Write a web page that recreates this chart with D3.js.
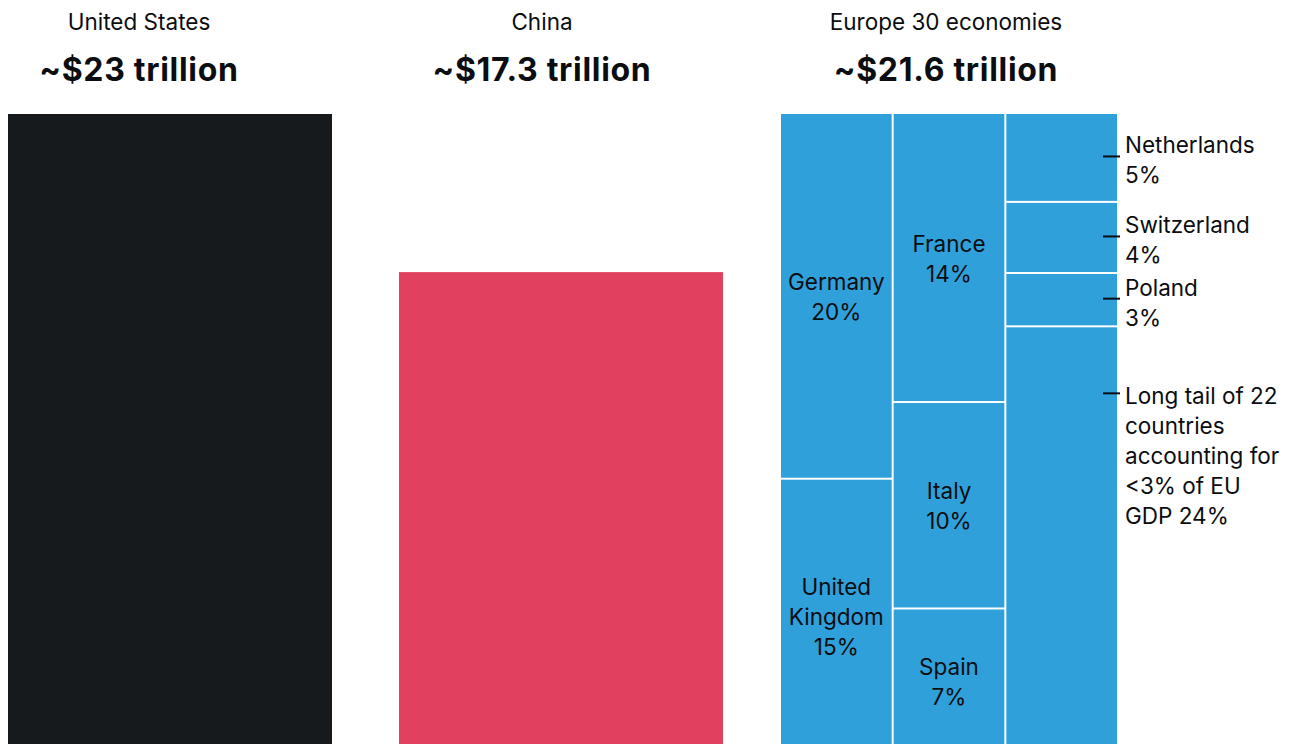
<!DOCTYPE html>
<html>
<head>
<meta charset="utf-8">
<script src="https://cdn.jsdelivr.net/npm/d3@7"></script>
<style>
  html, body { margin: 0; padding: 0; background: #fff; }
  svg { display: block; }
  text { font-family: Inter, "Liberation Sans", Arial, sans-serif; fill: #0b0d10; }
</style>
</head>
<body>
<svg id="chart" width="1292" height="744"></svg>
<script>
// GDP by economy, trillion USD
const economies = ["United States", "China", "Europe 30 economies"];
const gdpTrillions = [23, 17.3, 21.6];
const gdpLabels = ["~$23 trillion", "~$17.3 trillion", "~$21.6 trillion"];
const economyColors = ["#171a1d", "#e1405e", "#30a0da"];

// Europe breakdown: share of GDP (%) and the column of the mosaic each sits in
const euCountries = ["Germany", "United Kingdom", "France", "Italy", "Spain",
                     "Netherlands", "Switzerland", "Poland", "Long tail"];
const euShares = [20, 15, 14, 10, 7, 5, 4, 3, 24];
const euColumns = [0, 0, 1, 1, 1, 2, 2, 2, 2];
const euLabelLines = [
  ["Germany", "20%"],
  ["United", "Kingdom", "15%"],
  ["France", "14%"],
  ["Italy", "10%"],
  ["Spain", "7%"],
  ["Netherlands", "5%"],
  ["Switzerland", "4%"],
  ["Poland", "3%"],
  ["Long tail of 22", "countries", "accounting for", "<3% of EU", "GDP 24%"]
];

const svg = d3.select("#chart");

// Plot geometry
const plotTop = 114, plotBottom = 752;
const barX = [8, 399, 781];
const barW = [324, 324, 336];
const headerX = [139, 542, 946];
const gap = 2;
const lineH = 30;
const bodySize = "22.5px";

const y = d3.scaleLinear()
  .domain([0, d3.max(gdpTrillions)])
  .range([plotBottom, plotTop]);

// Headers
economies.forEach((name, i) => {
  svg.append("text")
    .attr("x", headerX[i]).attr("y", 30)
    .attr("text-anchor", "middle")
    .style("font-size", bodySize)
    .text(name);
  svg.append("text")
    .attr("x", headerX[i]).attr("y", 81)
    .attr("text-anchor", "middle")
    .style("font-size", "32px")
    .style("font-weight", 700)
    .style("letter-spacing", "0.7px")
    .text(gdpLabels[i]);
});

// United States and China as solid bars
[0, 1].forEach(i => {
  svg.append("rect")
    .attr("x", barX[i]).attr("width", barW[i])
    .attr("y", y(gdpTrillions[i]))
    .attr("height", plotBottom - y(gdpTrillions[i]))
    .attr("fill", economyColors[i]);
});

// Europe mosaic: equal-width columns, stacked by share within each column
const ex0 = barX[2], ex1 = barX[2] + barW[2];
const nCols = d3.max(euColumns) + 1;
const colX = d3.scaleBand()
  .domain(d3.range(nCols))
  .range([ex0, ex1 + gap])
  .paddingInner(0);
const colW = colX.bandwidth() - gap;

const cells = [];
d3.range(nCols).forEach(c => {
  const idx = euCountries.map((_, i) => i).filter(i => euColumns[i] === c);
  const total = d3.sum(idx, i => euShares[i]);
  const yy = d3.scaleLinear().domain([0, total]).range([plotTop, plotBottom + gap]);
  let acc = 0;
  idx.forEach(i => {
    const y0 = yy(acc), y1 = yy(acc + euShares[i]) - gap;
    acc += euShares[i];
    cells.push({ i, col: c, x: colX(c), w: colW, y0, y1 });
  });
});

svg.append("g").selectAll("rect")
  .data(cells)
  .join("rect")
  .attr("x", d => d.x).attr("width", d => d.w)
  .attr("y", d => d.y0).attr("height", d => d.y1 - d.y0)
  .attr("fill", economyColors[2]);

// Labels inside the first two columns
cells.filter(d => d.col < nCols - 1).forEach(d => {
  const lines = euLabelLines[d.i];
  const cy = (d.y0 + d.y1) / 2;
  const t = svg.append("text")
    .attr("text-anchor", "middle")
    .style("font-size", bodySize);
  lines.forEach((s, k) => {
    t.append("tspan")
      .attr("x", d.x + d.w / 2)
      .attr("y", cy + (k - (lines.length - 1) / 2) * lineH)
      .attr("dy", "0.4em")
      .text(s);
  });
});

// Callout labels for the last column
const tickX0 = ex1 - 14, tickX1 = ex1 + 3, labelX = ex1 + 8;
cells.filter(d => d.col === nCols - 1).forEach(d => {
  const lines = euLabelLines[d.i];
  const isTail = lines.length > 2;
  const tickY = isTail ? d.y0 + 66 : (d.y0 + d.y1) / 2 - 1;
  const firstY = isTail ? tickY + 2 : tickY - lineH / 2 + 3;
  svg.append("line")
    .attr("x1", tickX0).attr("x2", tickX1)
    .attr("y1", tickY).attr("y2", tickY)
    .attr("stroke", "#0b0d10").attr("stroke-width", 2);
  const t = svg.append("text").style("font-size", bodySize);
  lines.forEach((s, k) => {
    t.append("tspan")
      .attr("x", labelX)
      .attr("y", firstY + k * lineH)
      .attr("dy", "0.4em")
      .text(s);
  });
});
</script>
</body>
</html>
